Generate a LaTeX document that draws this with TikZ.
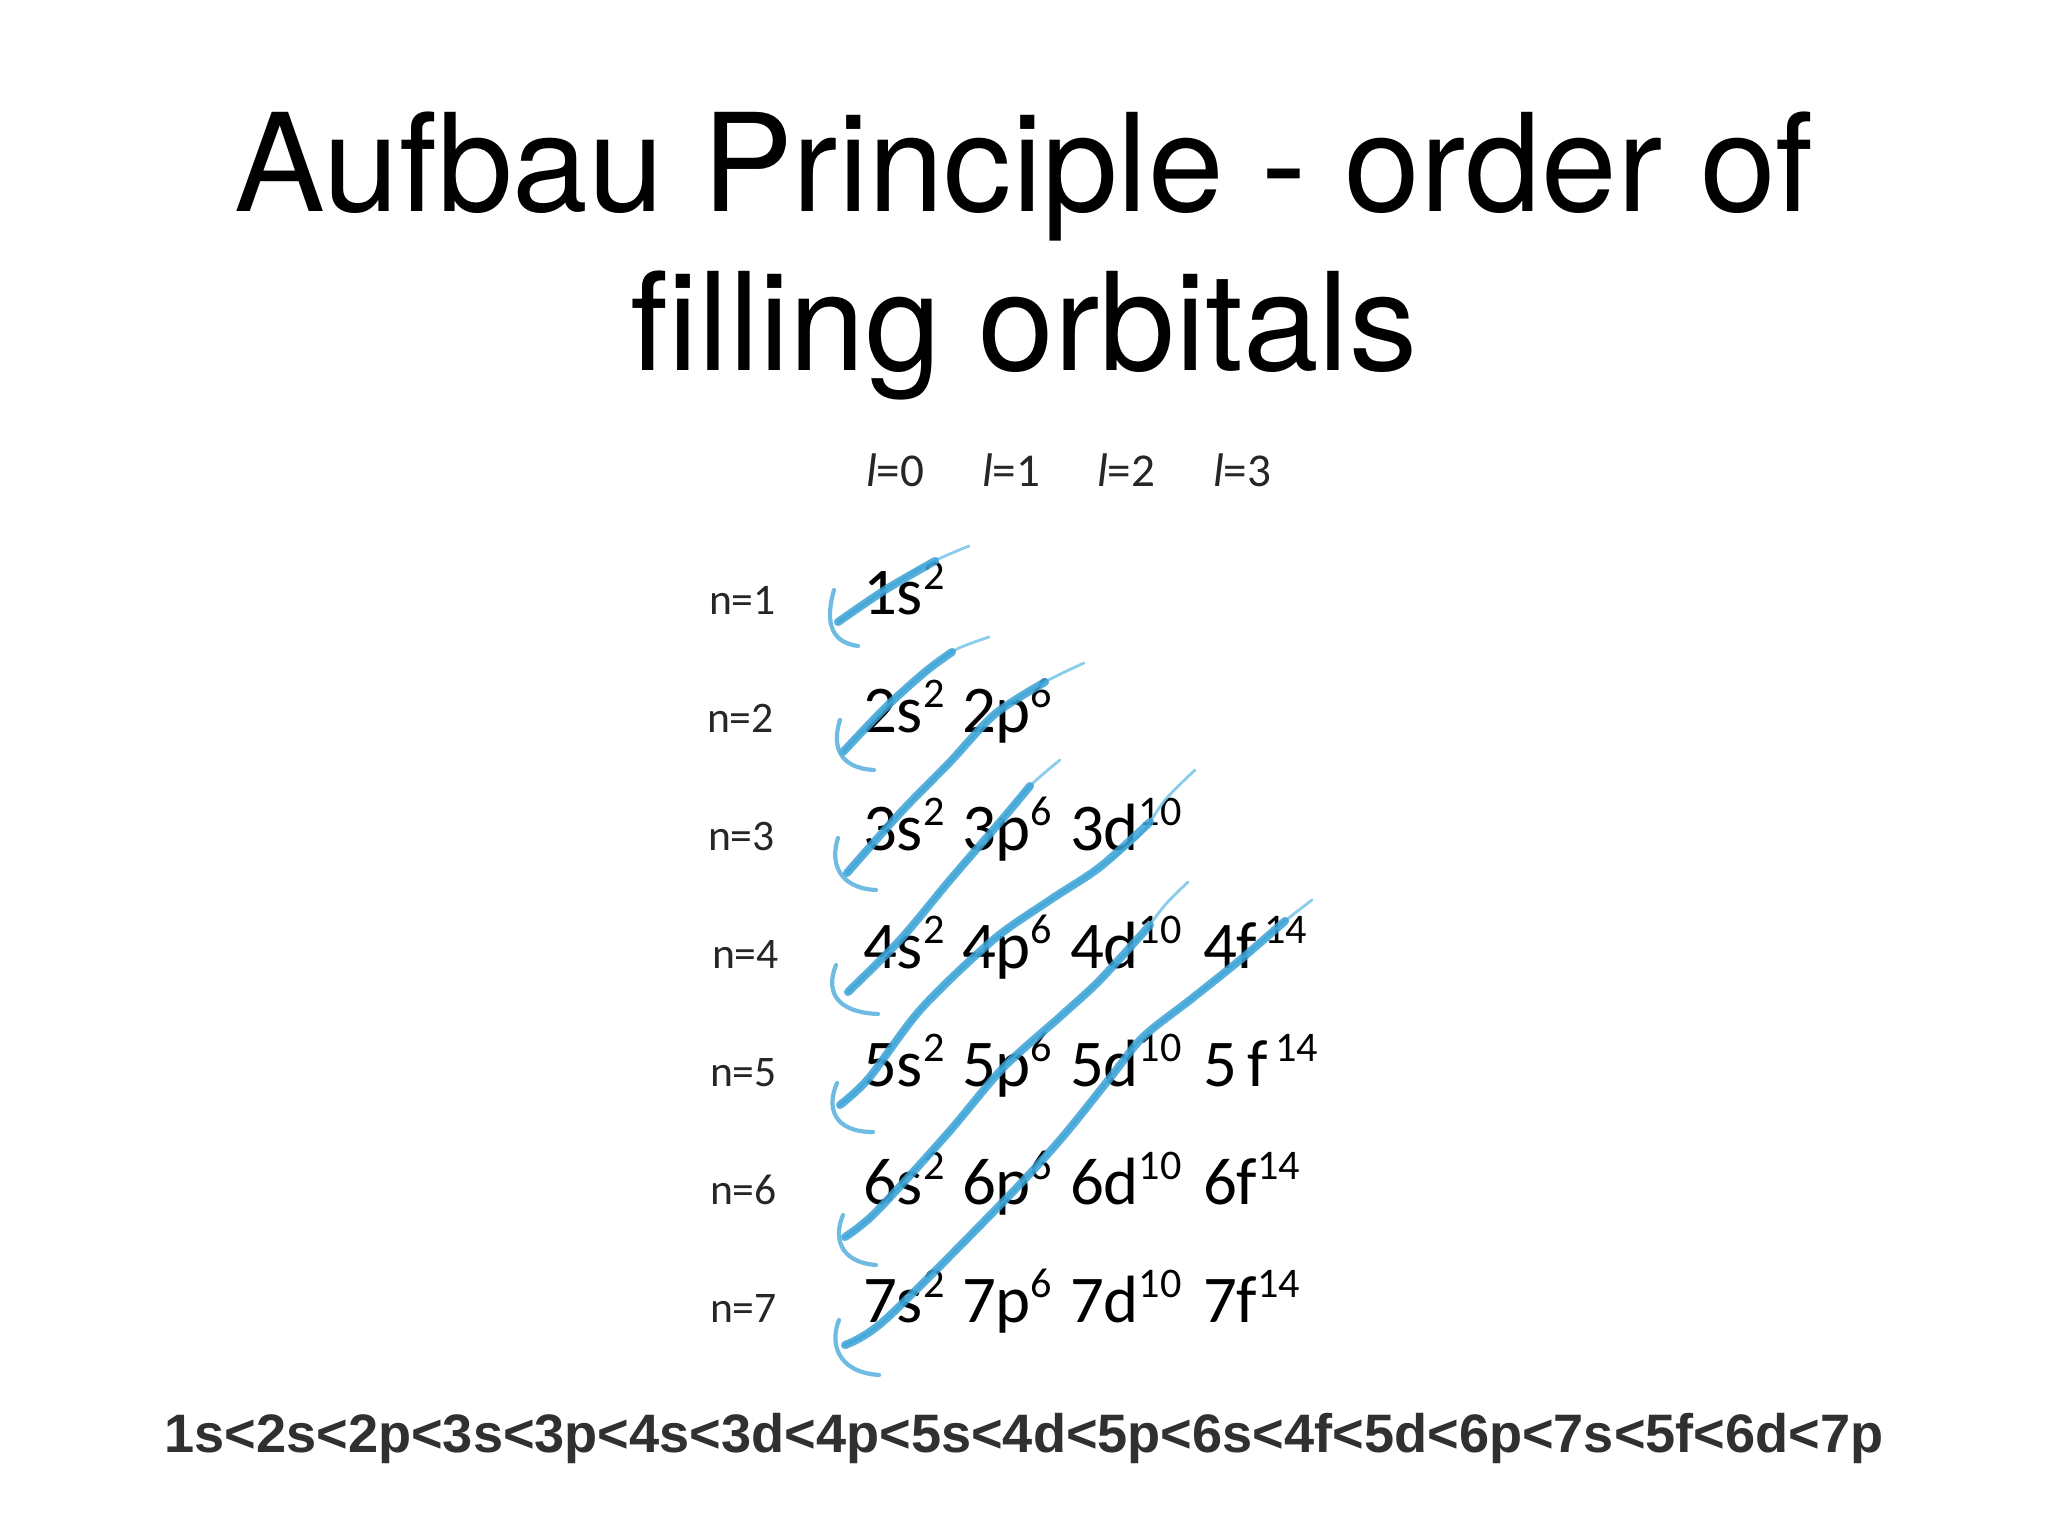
\documentclass[tikz,border=0pt]{standalone}
\usepackage{fontspec}
\newfontfamily\titlefont{TeX Gyre Heros}
\newfontfamily\calfont{Carlito}
\newfontfamily\orderfont{Liberation Sans}
\definecolor{pen}{RGB}{58,162,214}
\definecolor{penlight}{RGB}{120,196,232}
\definecolor{ordergray}{RGB}{48,48,48}
\newcommand\orb[2]{#1\raisebox{7pt}{\fontsize{12}{12}\selectfont #2}}
\begin{document}
\begin{tikzpicture}[x=0.01cm,y=-0.01cm,
  every node/.style={inner sep=0pt,outer sep=0pt},
  title/.style={anchor=base,font=\titlefont\fontsize{38.7}{40}\selectfont},
  orbtxt/.style={anchor=base west,font=\calfont\fontsize{19}{19}\selectfont},
  nlab/.style={anchor=base west,font=\calfont\fontsize{12.4}{13}\selectfont,text=black!85},
  lhead/.style={anchor=base west,font=\calfont\fontsize{13.4}{14}\selectfont,text=black!85},
  order/.style={anchor=base,font=\orderfont\bfseries\fontsize{15.4}{16}\selectfont,text=ordergray},
  pthin/.style={draw=penlight,line width=0.8pt,line cap=round,opacity=0.85},
  pthick/.style={draw=pen,line width=2.3pt,line cap=round,line join=round,opacity=0.85},
  phead/.style={draw=pen!85!white,line width=1.2pt,line cap=round,opacity=0.85}]
\path[fill=white] (0,0) rectangle (2048,1536);
\useasboundingbox (0,0) rectangle (2048,1536);

% title
\node[title] (t1) at (1024,211) {Aufbau Principle - order of};
\node[title] (t2) at (1024,370) {filling orbitals};

% headers
\node[lhead] (h0) at (866,486) {\textit{l}=0};
\node[lhead] (h1) at (982,486) {\textit{l}=1};
\node[lhead] (h2) at (1097,486) {\textit{l}=2};
\node[lhead] (h3) at (1213,486) {\textit{l}=3};

% n labels
\node[nlab] (n1) at (709,614) {n=1};
\node[nlab] (n2) at (707,732) {n=2};
\node[nlab] (n3) at (708,850) {n=3};
\node[nlab] (n4) at (712,968) {n=4};
\node[nlab] (n5) at (710,1086) {n=5};
\node[nlab] (n6) at (710,1204) {n=6};
\node[nlab] (n7) at (710,1322) {n=7};

% orbitals
\node[orbtxt] (o1s) at (863,614) {\orb{1s}{2}};
\node[orbtxt] (o2s) at (863,732) {\orb{2s}{2}};
\node[orbtxt] (o2p) at (962,732) {\orb{2p}{6}};
\node[orbtxt] (o3s) at (863,850) {\orb{3s}{2}};
\node[orbtxt] (o3p) at (962,850) {\orb{3p}{6}};
\node[orbtxt] (o3d) at (1070,850) {\orb{3d}{10}};
\node[orbtxt] (o4s) at (863,968) {\orb{4s}{2}};
\node[orbtxt] (o4p) at (962,968) {\orb{4p}{6}};
\node[orbtxt] (o4d) at (1070,968) {\orb{4d}{10}};
\node[orbtxt] (o4f) at (1203,968) {\orb{4f}{\,14}};
\node[orbtxt] (o5s) at (863,1086) {\orb{5s}{2}};
\node[orbtxt] (o5p) at (962,1086) {\orb{5p}{6}};
\node[orbtxt] (o5d) at (1070,1086) {\orb{5d}{10}};
\node[orbtxt] (o5f) at (1203,1086) {\orb{5\,f}{\,14}};
\node[orbtxt] (o6s) at (863,1204) {\orb{6s}{2}};
\node[orbtxt] (o6p) at (962,1204) {\orb{6p}{6}};
\node[orbtxt] (o6d) at (1070,1204) {\orb{6d}{10}};
\node[orbtxt] (o6f) at (1203,1204) {\orb{6f}{14}};
\node[orbtxt] (o7s) at (863,1322) {\orb{7s}{2}};
\node[orbtxt] (o7p) at (962,1322) {\orb{7p}{6}};
\node[orbtxt] (o7d) at (1070,1322) {\orb{7d}{10}};
\node[orbtxt] (o7f) at (1203,1322) {\orb{7f}{14}};

% order line
\node[order] (ord) at (1024,1452) {1s<2s<2p<3s<3p<4s<3d<4p<5s<4d<5p<6s<4f<5d<6p<7s<5f<6d<7p};

% pen strokes
\draw[pthin] plot[smooth,tension=0.5] coordinates {(969,546) (930,563) (885,590) (838,622)};
\draw[pthick] plot[smooth,tension=0.5] coordinates {(935,561) (885,590) (838,622)};
\draw[phead] (834,590) .. controls (826,618) and (828,642) .. (858,646);

\draw[pthin] plot[smooth,tension=0.5] coordinates {(989,637) (955,650) (925,672) (885,708) (843,752)};
\draw[pthick] plot[smooth,tension=0.5] coordinates {(952,652) (925,672) (885,708) (843,752)};
\draw[phead] (840,720) .. controls (832,745) and (838,768) .. (874,770);

\draw[pthin] plot[smooth,tension=0.5] coordinates {(1084,663) (1045,682) (995,714) (950,762) (901,812) (847,873)};
\draw[pthick] plot[smooth,tension=0.5] coordinates {(1045,682) (995,714) (950,762) (901,812) (847,873)};
\draw[phead] (838,838) .. controls (830,862) and (838,888) .. (876,890);

\draw[pthin] plot[smooth,tension=0.5] coordinates {(1060,760) (1030,786) (1000,822) (950,880) (900,940) (848,992)};
\draw[pthick] plot[smooth,tension=0.5] coordinates {(1030,786) (1000,822) (950,880) (900,940) (848,992)};
\draw[phead] (836,965) .. controls (826,990) and (834,1012) .. (878,1014);

\draw[pthin] plot[smooth,tension=0.5] coordinates {(1195,770) (1165,800) (1140,835) (1100,867) (1050,900) (993,940) (921,1009) (869,1078) (840,1105)};
\draw[pthick] plot[smooth,tension=0.5] coordinates {(1150,822) (1100,867) (1050,900) (993,940) (921,1009) (869,1078) (840,1105)};
\draw[phead] (837,1083) .. controls (826,1108) and (834,1132) .. (873,1132);

\draw[pthin] plot[smooth,tension=0.5] coordinates {(1188,882) (1165,905) (1140,937) (1100,980) (1062,1015) (1003,1068) (948,1133) (876,1212) (845,1237)};
\draw[pthick] plot[smooth,tension=0.5] coordinates {(1150,925) (1100,980) (1062,1015) (1003,1068) (948,1133) (876,1212) (845,1237)};
\draw[phead] (843,1215) .. controls (834,1236) and (838,1262) .. (876,1265);

\draw[pthin] plot[smooth,tension=0.5] coordinates {(1312,900) (1280,925) (1240,960) (1190,1000) (1143,1037) (1110,1078) (1060,1140) (1003,1202) (886,1319) (845,1345)};
\draw[pthick] plot[smooth,tension=0.5] coordinates {(1285,921) (1240,960) (1190,1000) (1143,1037) (1110,1078) (1060,1140) (1003,1202) (886,1319) (845,1345)};
\draw[phead] (839,1320) .. controls (830,1342) and (836,1372) .. (879,1375);
\end{tikzpicture}
\end{document}
